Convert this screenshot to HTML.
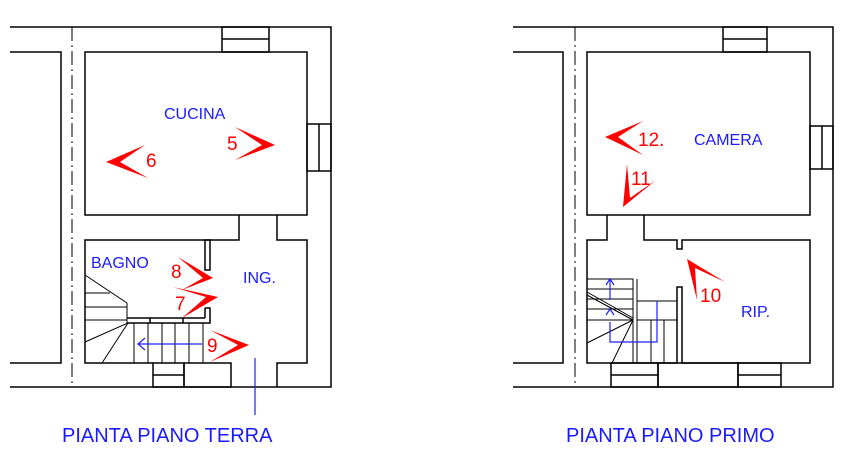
<!DOCTYPE html>
<html><head><meta charset="utf-8"><style>
html,body{margin:0;padding:0;background:#fff;width:861px;height:475px;overflow:hidden}
svg{display:block}
text{font-family:"Liberation Sans",sans-serif}
</style></head><body>
<svg width="861" height="475" viewBox="0 0 861 475" xmlns="http://www.w3.org/2000/svg">
<g stroke="#000" stroke-width="1.5" fill="none">
<!-- LEFT PLAN -->
<polyline points="10,27 331,27 331,387 10,387"/>
<polyline points="10,52 61,52 61,363 10,363"/>
<line x1="72" y1="27" x2="72" y2="387" stroke-width="1" stroke-dasharray="14,4,2,4"/>
<rect x="85" y="52" width="222" height="163"/>
<rect x="222" y="27" width="47" height="25"/><line x1="222" y1="39" x2="269" y2="39"/>
<rect x="307" y="124" width="24" height="47"/><line x1="319" y1="124" x2="319" y2="171"/>
<polyline points="239,215 239,240 85,240 85,363 153,363"/>
<polyline points="277,215 277,240 307,240 307,363 277,363 277,387"/>
<rect x="153" y="363" width="31" height="24"/><line x1="153" y1="375" x2="184" y2="375"/>
<rect x="184" y="363" width="47" height="24"/>
<rect x="205" y="240" width="5" height="30"/>
<polyline points="205,308 210,308 210,323 127,323"/>
<line x1="127" y1="318" x2="205" y2="318"/>
<line x1="205" y1="308" x2="205" y2="318"/>
<line x1="150" y1="318" x2="150" y2="323"/><line x1="183" y1="318" x2="183" y2="323"/>
<g stroke-width="1">
<line x1="85" y1="275" x2="127" y2="303"/><line x1="127" y1="303" x2="127" y2="323"/>
<line x1="85" y1="293" x2="110" y2="293"/><line x1="85" y1="307" x2="127" y2="307"/><line x1="85" y1="320" x2="127" y2="320"/>
<line x1="128" y1="323" x2="85" y2="342"/><line x1="128" y1="323" x2="102" y2="363"/>
<line x1="134" y1="323" x2="134" y2="363"/><line x1="148" y1="323" x2="148" y2="363"/><line x1="162" y1="323" x2="162" y2="363"/><line x1="175" y1="323" x2="175" y2="363"/><line x1="189" y1="323" x2="189" y2="363"/><line x1="203" y1="323" x2="203" y2="363"/>
</g>
<!-- RIGHT PLAN -->
<polyline points="513,27 833,27 833,387 513,387"/>
<polyline points="513,52 563,52 563,363 513,363"/>
<line x1="575" y1="27" x2="575" y2="387" stroke-width="1" stroke-dasharray="14,4,2,4"/>
<rect x="587" y="52" width="223" height="163"/>
<rect x="723" y="27" width="44" height="25"/><line x1="723" y1="39" x2="767" y2="39"/>
<rect x="810" y="126" width="23" height="43"/><line x1="822" y1="126" x2="822" y2="169"/>
<polyline points="607,215 607,240 587,240 587,363 677,363 677,287 682,287 682,363 810,363 810,240 682,240 682,249 677,249 677,240 644,240 644,215"/>
<rect x="611" y="363" width="47" height="24"/><line x1="611" y1="375" x2="658" y2="375"/>
<rect x="658" y="363" width="80" height="24"/>
<rect x="738" y="363" width="43" height="24"/><line x1="738" y1="375" x2="781" y2="375"/>
<g stroke-width="1">
<rect x="587" y="279" width="46" height="84"/>
<line x1="587" y1="289" x2="633" y2="289"/><line x1="587" y1="299" x2="633" y2="299"/><line x1="587" y1="309" x2="633" y2="309"/><line x1="587" y1="320" x2="633" y2="320"/>
<line x1="587" y1="295" x2="633" y2="320"/><line x1="587" y1="292" x2="633" y2="318"/>
<line x1="633" y1="320" x2="587" y2="343"/><line x1="633" y1="320" x2="612" y2="363"/>
<polyline points="637,279 637,363"/>
<line x1="637" y1="301" x2="677" y2="301"/><line x1="637" y1="320" x2="677" y2="320"/>
<line x1="651" y1="320" x2="651" y2="363"/><line x1="664" y1="320" x2="664" y2="363"/>
</g>
</g>
<!-- blue -->
<g stroke="#2020ff" stroke-width="1.2" fill="none">
<line x1="202" y1="344" x2="138" y2="344"/><polyline points="145,338 138,344 145,350"/>
<line x1="255" y1="358" x2="255" y2="415"/>
<polyline points="610,322 610,342 657,342 657,301"/>
<line x1="610" y1="300" x2="610" y2="280"/>
<polyline points="606,285 610,279 614,285"/><polyline points="606,315 610,309 614,315"/>
</g>
<!-- red chevrons -->
<g fill="#ff0000">
<polygon points="145,145 106,162 148,178 120,162"/>
<polygon points="235,127 275,145 235,160 262,145"/>
<polygon points="178,257 213,278 182,290 203,278"/>
<polygon points="173,287 218,297 182,318 206,297"/>
<polygon points="210,330 249,345 210,362 238,345"/>
<polygon points="643,121 605,137 643,155 618,137"/>
<polygon points="627,164 623,207 656,180 630,198"/>
<polygon points="697,300 687,259 725,282 695,268"/>
</g>
<g fill="#ff0000" font-size="19">
<text x="146" y="167">6</text><text x="227" y="150">5</text>
<text x="171" y="278">8</text><text x="175" y="310">7</text><text x="207" y="352">9</text>
<text x="638" y="146">12.</text><text x="631" y="185">11</text><text x="700" y="302">10</text>
</g>
<g fill="#1a1aff" font-size="16">
<text x="164" y="119">CUCINA</text><text x="91" y="268">BAGNO</text><text x="243" y="283">ING.</text>
<text x="694" y="145">CAMERA</text><text x="741" y="317">RIP.</text>
</g>
<g fill="#1a1aff" font-size="20">
<text x="62" y="442">PIANTA PIANO TERRA</text><text x="566" y="442">PIANTA PIANO PRIMO</text>
</g>
</svg>
</body></html>
